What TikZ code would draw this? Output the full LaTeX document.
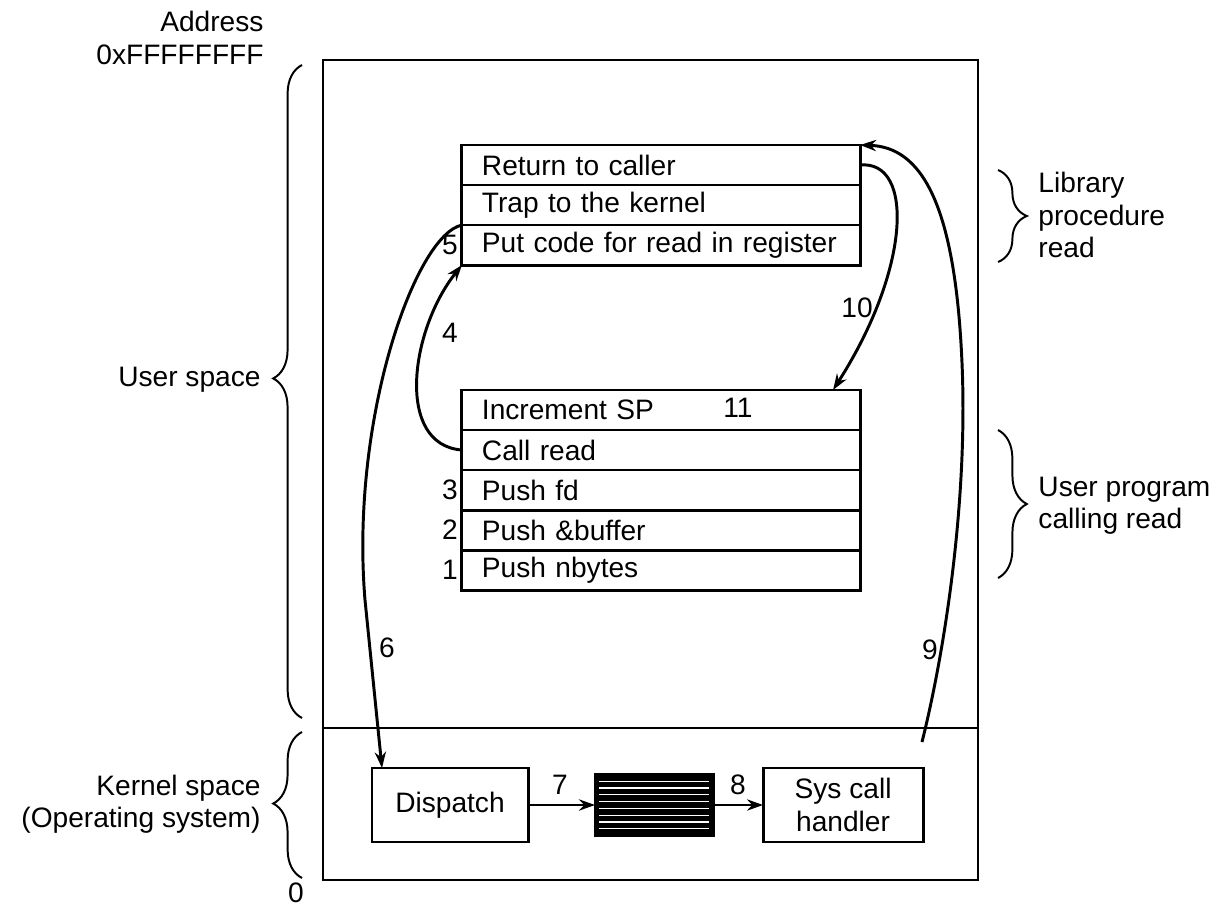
\documentclass[tikz,border=0pt]{standalone}
\usepackage{fontspec}
\setmainfont{Liberation Sans}
\usetikzlibrary{arrows.meta, positioning, calc, decorations.pathreplacing}
\tikzset{
  every picture/.style={font=\fontsize{20}{23}\selectfont, line width=2.1pt},
  row/.style={draw, outer sep=0pt, minimum height=1cm, inner xsep=0.5cm, text width=8.95cm, align=left},
  kbox/.style={draw, outer sep=0pt, minimum width=#1, minimum height=1.85cm, align=center},
  kbox/.default=4cm,
  arrow/.style={-{Stealth[length=4mm, width=2.8mm]}, line width=2.1pt},
  num/.style={inner sep=1pt},
  side/.style={inner sep=0pt, align=left},
  brace/.style={decorate, decoration={brace, amplitude=0.72cm, aspect=#1}, line width=1.4pt},
  brace/.default=0.5,
}
\begin{document}
\begin{tikzpicture}[x=0.025cm, y=-0.025cm]
  \useasboundingbox (0,0) rectangle (1223,907);
  % address space
  \draw (323,60) rectangle (978,880);
  \draw (323,728) -- (978,728);
  \node[side, align=right, anchor=east] (addr) at (265,38) {Address\\0xFFFFFFFF};
  \node[side] (zero) at (296,893) {0};
  % left braces
  \draw[brace=0.52] (302,718) -- (302,65);
  \node[side, anchor=east] (user) at (262,380) {User space};
  \draw[brace=0.51] (302,878) -- (302,732);
  \node[side, align=right, anchor=east] (kern) at (262,804) {Kernel space\\(Operating system)};
  % library procedure
  \node[row] (ret) at (661,165) {Return to caller};
  \node[row, below=0pt of ret] (trap) {Trap to the kernel};
  \node[row, below=0pt of trap] (put) {Put code for read in register};
  \node[num, left=1pt of put.west] (n5) {5};
  \draw[brace] (998,170) -- (998,262);
  \node[side, anchor=west] (lib) at (1037,215) {Library\\procedure\\read};
  % user program
  \node[row] (inc) at (661,410) {Increment SP};
  \node[row, below=0pt of inc] (call) {Call read};
  \node[row, below=0pt of call] (fd) {Push fd};
  \node[row, below=0pt of fd] (buf) {Push \&buffer};
  \node[row, below=0pt of buf] (nb) {Push nbytes};
  \node[num] (n11) at (738,408) {11};
  \node[num, left=1pt of fd.west] (n3) {3};
  \node[num, left=1pt of buf.west] (n2) {2};
  \node[num, left=1pt of nb.west] (n1) {1};
  \draw[brace] (998,430) -- (998,578);
  \node[side, anchor=west] (prog) at (1037,506) {User program\\calling read};
  % kernel
  \node[kbox=3.9cm] (disp) at (450,805) {Dispatch};
  \node[kbox=2.95cm, minimum height=1.525cm, fill=black, right=1.675cm of disp] (tbl) {};
  \foreach \k in {1,...,8}
    \draw[white, line width=0.9pt] ($(tbl.north west)!\k/9!(tbl.south west)+(4,0)$) -- ($(tbl.north east)!\k/9!(tbl.south east)+(-4,0)$);
  \node[kbox, right=1.25cm of tbl] (sch) {Sys call\\handler};
  \draw[arrow] (disp) -- (tbl);
  \draw[arrow] (tbl) -- (sch);
  \node[num] (n7) at (560,785) {7};
  \node[num] (n8) at (738,785) {8};
  % steps of the call
  \draw[arrow] (call.west) .. controls (395,445) and (410,330) .. (put.south west);
  \node[num] (n4) at (450,333) {4};
  \draw[arrow] (trap.south west) .. controls (415,235) and (350,420) .. (365,600) -- ([xshift=0.25cm]disp.north west);
  \node[num] (n6) at (387,648) {6};
  \coordinate (s9) at (922,742);
  \draw[arrow] (s9) .. controls (945,650) and (968,500) .. (962,363) .. controls (955,200) and (920,147) .. (ret.north east);
  \node[num] (n9) at (930,650) {9};
  \draw[arrow] (ret.east) .. controls (915,160) and (910,270) .. ([xshift=-0.675cm]inc.north east);
  \node[num] (n10) at (857,308) {10};
\end{tikzpicture}
\end{document}
